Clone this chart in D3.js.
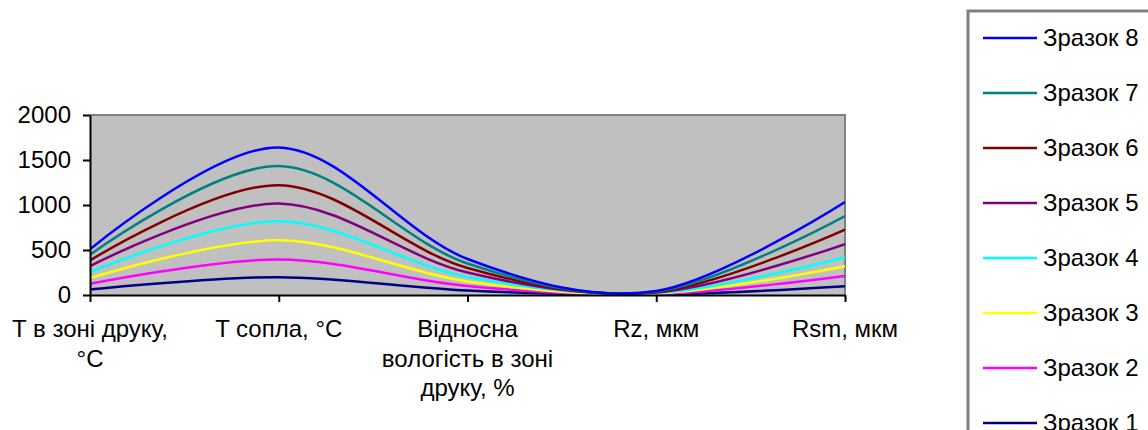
<!DOCTYPE html>
<html>
<head>
<meta charset="utf-8">
<script src="https://cdn.jsdelivr.net/npm/d3@7"></script>
<style>
  html, body { margin: 0; padding: 0; background: #ffffff; }
  svg { display: block; font-family: "Liberation Sans", Arial, sans-serif; }
</style>
</head>
<body>
<svg id="chart" width="1148" height="430"></svg>
<script>
// ---- data ----
const categories = ["T в зоні друку, °C", "T сопла, °C", "Відносна вологість в зоні друку, %", "Rz, мкм", "Rsm, мкм"];
const categoryLabelLines = [["T в зоні друку,", "°C"], ["T сопла, °C"], ["Відносна", "вологість в зоні", "друку, %"], ["Rz, мкм"], ["Rsm, мкм"]];
const seriesNames = ["Зразок 1", "Зразок 2", "Зразок 3", "Зразок 4", "Зразок 5", "Зразок 6", "Зразок 7", "Зразок 8"];
const seriesColors = ["#000080", "#FF00FF", "#FFFF00", "#00FFFF", "#800080", "#800000", "#008080", "#0000FF"];
const zrazok1 = [61, 198, 50, 5, 98];
const zrazok2 = [125, 395, 100, 10, 212];
const zrazok3 = [187, 607, 150, 16, 320];
const zrazok4 = [254, 819, 200, 22, 421];
const zrazok5 = [321, 1016, 250, 28, 566];
const zrazok6 = [384, 1220, 300, 33, 726];
const zrazok7 = [448, 1432, 350, 39, 878];
const zrazok8 = [507, 1640, 400, 45, 1034];
const seriesValues = [zrazok1, zrazok2, zrazok3, zrazok4, zrazok5, zrazok6, zrazok7, zrazok8];
const yTicks = [0, 500, 1000, 1500, 2000];

// ---- layout ----
const svg = d3.select("#chart");
const plot = { left: 90, top: 115, right: 845, bottom: 295 };

const x = d3.scalePoint().domain(d3.range(categories.length)).range([plot.left, plot.right]);
const y = d3.scaleLinear().domain([0, 2000]).range([plot.bottom, plot.top]);

// plot background
svg.append("rect")
  .attr("x", plot.left).attr("y", plot.top)
  .attr("width", plot.right - plot.left).attr("height", plot.bottom - plot.top)
  .attr("fill", "#C0C0C0");

// gray top/right border
svg.append("path")
  .attr("d", `M${plot.left},${plot.top}H${plot.right}V${plot.bottom}`)
  .attr("fill", "none").attr("stroke", "#808080").attr("stroke-width", 2);

// clip
svg.append("clipPath").attr("id", "clip")
  .append("rect")
  .attr("x", plot.left).attr("y", plot.top)
  .attr("width", plot.right - plot.left).attr("height", plot.bottom - plot.top);

// lines
const line = d3.line()
  .x((d, i) => x(i))
  .y(d => y(d))
  .curve(d3.curveCardinal.tension(0));

svg.append("g").attr("clip-path", "url(#clip)")
  .selectAll("path")
  .data(seriesValues)
  .join("path")
  .attr("d", d => line(d))
  .attr("fill", "none")
  .attr("stroke", (d, i) => seriesColors[i])
  .attr("stroke-width", 2.5)
  .attr("stroke-linejoin", "round");

// y axis
const yAxis = svg.append("g")
  .attr("transform", `translate(${plot.left},0)`)
  .call(d3.axisLeft(y).tickValues(yTicks).tickFormat(d3.format("d")).tickSize(7).tickPadding(12).tickSizeOuter(0));
yAxis.select(".domain").attr("stroke", "#000").attr("stroke-width", 2);
yAxis.selectAll(".tick line").attr("stroke", "#000").attr("stroke-width", 2);
yAxis.selectAll(".tick text")
  .attr("font-size", 24).attr("fill", "#000")
  .attr("font-family", "Liberation Sans, Arial, sans-serif");

// x axis
const xAxis = svg.append("g")
  .attr("transform", `translate(0,${plot.bottom})`)
  .call(d3.axisBottom(x).tickSize(7).tickSizeOuter(0).tickFormat(() => ""));
xAxis.select(".domain").attr("stroke", "#000").attr("stroke-width", 2);
xAxis.selectAll(".tick line").attr("stroke", "#000").attr("stroke-width", 2);
xAxis.selectAll(".tick text").remove();

const labelG = svg.append("g");
categoryLabelLines.forEach((lines, i) => {
  const t = labelG.append("text")
    .attr("x", x(i)).attr("y", 337)
    .attr("text-anchor", "middle")
    .attr("font-size", 24).attr("fill", "#000");
  lines.forEach((ln, j) => {
    t.append("tspan").attr("x", x(i)).attr("y", 337 + j * 29.5).text(ln);
  });
});

// legend
const legend = svg.append("g");
legend.append("rect")
  .attr("x", 968).attr("y", 11)
  .attr("width", 200).attr("height", 440)
  .attr("fill", "#fff").attr("stroke", "#808080").attr("stroke-width", 3);

const legendOrder = d3.range(seriesNames.length).reverse();
legendOrder.forEach((si, k) => {
  const cy = 38 + k * 55;
  legend.append("line")
    .attr("x1", 983).attr("x2", 1037).attr("y1", cy).attr("y2", cy)
    .attr("stroke", seriesColors[si]).attr("stroke-width", 2.5);
  legend.append("text")
    .attr("x", 1043).attr("y", cy).attr("dy", "0.35em")
    .attr("font-size", 24).attr("fill", "#000")
    .text(seriesNames[si]);
});
</script>
</body>
</html>
